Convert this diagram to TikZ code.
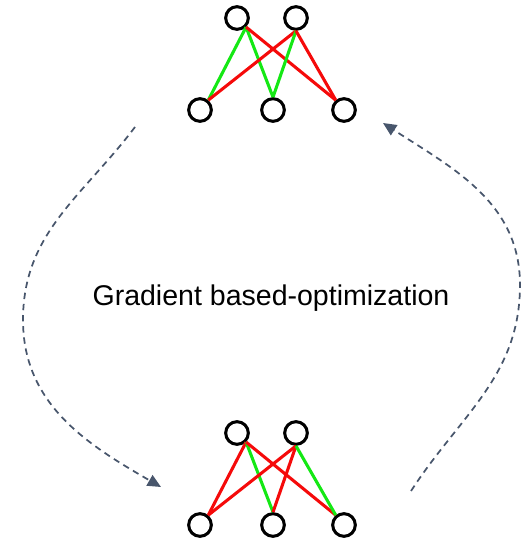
\documentclass[tikz,border=0pt]{standalone}
\usepackage{fontspec}
\setmainfont{Liberation Sans}
\usepackage{tikz}
\usetikzlibrary{arrows.meta}
\usetikzlibrary{positioning}

\definecolor{lime}{RGB}{20,232,20}
\definecolor{brightred}{RGB}{245,10,10}
\definecolor{slate}{RGB}{72,86,108}

\begin{document}
\begin{tikzpicture}[x=0.75pt, y=0.75pt,
                    gedge/.style={draw=lime, line width=2.3pt},
                    redge/.style={draw=brightred, line width=2.3pt},
                    loopline/.style={draw=slate, line width=1.3pt, dash pattern=on 4.8pt off 3.6pt,
                                     -{Triangle[length=10pt, width=9pt]}}]
	\useasboundingbox (0,0) rectangle (522,540);

	\begin{scope}[every node/.style={circle, draw, line width=2.3pt, minimum size=17pt, inner sep=0pt}]
		\node (t1) at (237,522) {};
		\node (t2) at (296,522) {};
		\node (b1) at (200,430) {};
		\node (b2) at (273,430) {};
		\node (b3) at (344,430) {};

		\node (T1) at (237,107) {};
		\node (T2) at (296,107) {};
		\node (B1) at (200,15) {};
		\node (B2) at (273,15) {};
		\node (B3) at (344,15) {};
	\end{scope}

	\begin{scope}
		\path (t1.-45) edge[gedge] (b1.50);
		\path (t1.-45) edge[gedge] (b2.north);
		\path (t1.-45) edge[redge] (b3.130);
		\path (t2.south) edge[redge] (b1.50);
		\path (t2.south) edge[gedge] (b2.north);
		\path (t2.south) edge[redge] (b3.130);

		\path (T1.-45) edge[redge] (B1.50);
		\path (T1.-45) edge[gedge] (B2.north);
		\path (T1.-45) edge[redge] (B3.130);
		\path (T2.south) edge[redge] (B1.50);
		\path (T2.south) edge[redge] (B2.north);
		\path (T2.south) edge[gedge] (B3.130);
	\end{scope}

	\coordinate (l0) at (135,413);
	\coordinate (l1) at (23,220);
	\coordinate (l2) at (161,53);
	\coordinate (r0) at (411,49);
	\coordinate (r1) at (520,255);
	\coordinate (r2) at (383,417);

	\draw[loopline] (l0) to[out=233, in=90] (l1) to[out=270, in=150] (l2);
	\draw[loopline] (r0) to[out=57, in=270] (r1) to[out=90, in=-33] (r2);

	\node[anchor=base, inner sep=0pt, font=\fontsize{21.4pt}{25pt}\selectfont] (lbl) at (271,234) {Gradient based-optimization};
\end{tikzpicture}
\end{document}
